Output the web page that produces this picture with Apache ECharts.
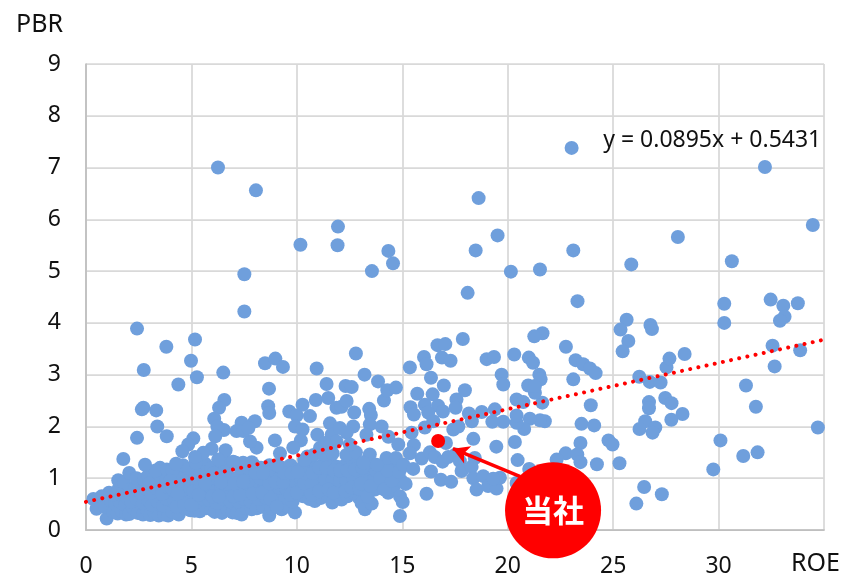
<!DOCTYPE html>
<html><head><meta charset="utf-8">
<style>html,body{margin:0;padding:0;background:#fff}#c{width:843px;height:576px}</style>
<script src="https://cdn.jsdelivr.net/npm/echarts@6/dist/echarts.min.js"></script>
</head><body><div id="c"></div>
<script>
// [ROE, PBR] pairs
const highPoints = [[6.26,7],[8.06,6.56],[10.17,5.51],[11.95,5.86],[11.93,5.5],[14.34,5.39],[14.56,5.15],[13.56,5],[7.51,4.94],[7.51,4.22],[2.42,3.89],[3.81,3.54],[5.17,3.68],[4.98,3.27],[2.74,3.09],[5.26,2.95],[6.51,3.04],[4.38,2.81],[8.49,3.22],[8.98,3.31],[9.34,3.15],[8.68,2.73],[10.94,3.12],[11.41,2.82],[12.31,2.78],[12.6,2.76],[12.8,3.41],[13.21,3],[13.85,2.87],[14.29,2.7],[14.7,2.75],[15.36,3.14],[16.03,3.34],[16.15,3.2],[16.67,3.57],[17.04,3.59],[16.88,3.33],[17.29,3.27],[16.36,2.94],[16.97,2.79],[17.87,3.69]];
const rightPoints = [[23.03,7.38],[18.62,6.41],[32.2,7.01],[34.47,5.89],[19.52,5.69],[18.48,5.4],[20.15,4.99],[21.53,5.03],[23.11,5.4],[28.07,5.66],[25.86,5.13],[30.63,5.19],[18.1,4.58],[23.31,4.42],[30.27,4.37],[30.27,4],[32.47,4.45],[33.07,4.33],[33.76,4.38],[33.13,4.12],[32.91,4.04],[25.64,4.06],[25.35,3.87],[26.77,3.96],[26.84,3.88],[25.72,3.65],[25.45,3.45],[21.65,3.8],[21.26,3.74],[19,3.3],[19.35,3.34],[20.31,3.39],[21,3.33],[21.2,3.23],[22.76,3.54],[23.22,3.28],[23.58,3.2],[23.9,3.12],[24.17,3.03],[19.71,3],[19.79,2.81],[21.5,3],[21.56,2.91],[20.97,2.79],[21.29,2.78],[23.11,2.91],[17.97,2.7],[26.24,2.96],[26.74,2.86],[27.25,2.85],[27.53,3.14],[27.67,3.31],[28.39,3.4],[32.56,3.56],[33.87,3.47],[32.66,3.16],[31.3,2.79],[31.77,2.38],[26.7,2.47],[26.7,2.35],[27.47,2.55],[27.77,2.45],[28.29,2.24],[27.76,2.13],[26.52,2.1],[26.25,1.95],[27,1.98],[26.87,1.88],[24.78,1.73],[24.97,1.65],[25.3,1.29],[24.23,1.27],[30.09,1.73],[31.17,1.43],[31.85,1.5],[29.75,1.17],[34.71,1.98],[26.47,0.83],[27.31,0.69],[26.1,0.51]];
const midRightPoints = [[23.94,2.41],[23.5,2.05],[24.1,2.02],[23.45,1.68],[22.75,1.48],[22.32,1.36],[23.3,1.46],[23.45,1.31],[21.02,1.18],[20.47,1.35],[20.34,1.7],[19.46,1.61],[18.37,1.76],[21.76,2.1],[21.53,2.12],[21.05,2.15],[20.78,1.95],[20.42,2.07],[20.42,2.21],[19.79,2.09],[19.27,2.09],[19.39,2.33],[18.77,2.28],[18.3,2.1],[18.16,2.25],[20.42,2.52],[20.74,2.47],[21.64,2.46],[21.29,2.65],[17.57,2.52],[17.53,2.36],[16.44,2.62],[15.71,2.63],[16.7,2.4],[16.93,2.29],[16.07,2.42],[16.23,2.27],[15.39,2.37],[15.55,2.23],[17.42,1.94],[17.66,2],[16.07,1.98],[16.47,2.1],[17.07,1.68],[15.44,1.88],[14.81,1.65],[15.55,1.64],[15.36,1.48],[15.92,1.38],[16.31,1.5],[16.54,1.41],[16.91,1.32],[17.18,1.41],[17.53,1.46],[17.73,1.33],[18.44,1.39],[17.81,1.14],[18.29,1.22],[16.36,1.13],[16.83,0.97],[17.32,0.93],[16.15,0.7],[18.37,1],[18.84,1.04],[18.52,0.78],[19.07,0.85],[19.47,0.8],[19.63,1.01],[19.31,0.99],[20.42,0.91],[15.52,1.18],[15.16,0.89],[14.89,0.65],[15.02,0.54],[14.89,0.27]];
const midLeftPoints = [[2.72,2.36],[2.65,2.33],[3.33,2.31],[3.38,2],[2.42,1.78],[3.83,1.81],[6.56,2.51],[6.31,2.36],[6.08,2.15],[6.54,1.93],[6.23,2],[6.13,1.81],[5.09,1.77],[4.85,1.65],[4.57,1.52],[4.27,1.28],[1.77,1.37],[2.8,1.26],[5.96,1.57],[5.56,1.49],[5.17,1.41],[6.62,1.54],[6.27,1.36],[6.98,1.32],[7.86,1.31],[8.09,1.59],[7.78,1.71],[8.01,2.1],[7.38,2.07],[7.14,1.91],[7.46,1.91],[7.7,1.97],[8.64,2.39],[8.69,2.26],[8.96,1.73],[9.2,1.48],[9.64,2.29],[10.27,2.42],[10.9,2.51],[11.49,2.55],[9.99,2.21],[10.62,2.2],[9.91,2],[10.27,1.94],[10.19,1.73],[10.97,1.84],[11.57,2.06],[11.88,2.36],[9.83,1.59],[11.1,1.59],[11.65,1.84],[12.12,2.38],[12.36,2.49],[12.72,2.27],[13.43,2.34],[13.51,2.22],[14.13,2.5],[12.04,1.97],[12.67,2],[12.36,1.88],[13.46,2.04],[14.02,2],[13.3,1.84],[14.34,1.8],[12.51,1.65],[11.88,1.71],[11.33,1.68],[13.46,1.46],[14.25,1.39],[14.7,1.39],[15.05,1.26],[13.78,1.26],[13.15,1.3]];
const denseLowA = [[0.35,0.6],[0.5,0.41],[0.98,0.22],[1.09,0.72],[0.74,0.65],[0.9,0.45],[1.2,0.55],[1.3,0.35],[1.5,0.32],[1.7,0.36],[1.9,0.3],[1.4,0.5],[1.6,0.55],[1.85,0.48],[1.3,0.68],[1.55,0.8],[1.75,0.72],[1.95,0.63],[1.53,0.96],[1.8,0.92],[2.05,0.31],[2.25,0.42],[2.45,0.33],[2.7,0.3],[2.9,0.38],[2.15,0.55],[2.4,0.6],[2.7,0.52],[2.95,0.58],[2.1,0.78],[2.35,0.85],[2.6,0.72],[2.85,0.8],[2.05,1.1],[2.4,1],[2.75,0.98],[2.95,1.05],[3.05,0.29],[3.25,0.33],[3.45,0.28],[3.7,0.3],[3.9,0.28],[3.15,0.48],[3.4,0.55],[3.65,0.47],[3.85,0.6],[3.1,0.72],[3.35,0.8],[3.6,0.7],[3.9,0.82],[3.2,0.98],[3.5,1.02],[3.8,0.95],[3.51,1.2],[3.3,1.15],[3.83,1.17],[4.1,0.35],[4.4,0.3],[4.7,0.42],[4.95,0.38],[4.2,0.55],[4.5,0.62],[4.8,0.58],[4.1,0.78],[4.35,0.85],[4.65,0.78],[4.95,0.8],[4.2,1],[4.5,1.08],[4.8,1],[4.1,1.15],[4.6,1.25],[4.9,1.18]];
const denseLowB = [[5.15,0.37],[5.4,0.36],[5.7,0.42],[5.95,0.4],[5.25,0.55],[5.55,0.6],[5.85,0.58],[5.1,0.75],[5.4,0.82],[5.7,0.75],[5.95,0.8],[5.2,1],[5.5,1.05],[5.8,0.98],[5.3,1.2],[5.65,1.28],[5.95,1.2],[5.2,1.3],[6.1,0.35],[6.45,0.33],[6.7,0.4],[6.95,0.34],[6.2,0.52],[6.5,0.6],[6.85,0.55],[6.1,0.75],[6.4,0.8],[6.75,0.75],[6.95,0.85],[6.2,1],[6.55,1.05],[6.9,1],[6.3,1.2],[6.7,1.2],[6.5,1.38],[7.15,0.33],[7.38,0.3],[7.6,0.42],[7.86,0.4],[7.2,0.55],[7.5,0.6],[7.8,0.55],[7.1,0.78],[7.4,0.82],[7.7,0.75],[7.95,0.85],[7.2,1],[7.55,1.05],[7.85,1],[7.3,1.2],[7.7,1.2],[7.95,1.25],[7.1,1.3],[8.1,0.42],[8.4,0.45],[8.69,0.28],[8.8,0.42],[8.2,0.6],[8.55,0.62],[8.9,0.55],[8.1,0.8],[8.45,0.85],[8.8,0.75],[8.25,1],[8.6,1.05],[8.95,0.98],[8.3,1.2],[8.7,1.25],[8.95,1.15]];
const denseLowC = [[9.28,0.4],[9.6,0.45],[9.91,0.34],[9.1,0.6],[9.45,0.62],[9.8,0.55],[9.15,0.82],[9.5,0.8],[9.85,0.75],[9.2,1],[9.55,1],[9.9,0.95],[9.3,1.2],[9.7,1.25],[9.95,1.15],[10.3,0.65],[10.6,0.6],[10.85,0.56],[10.15,0.8],[10.5,0.8],[10.85,0.75],[10.2,1],[10.55,1.02],[10.9,0.95],[10.25,1.2],[10.6,1.25],[10.9,1.2],[10.5,1.42],[10.8,1.45],[11.15,0.62],[11.4,0.7],[11.68,0.53],[11.9,0.68],[11.2,0.85],[11.55,0.88],[11.85,0.85],[11.1,1.05],[11.45,1.08],[11.85,1.02],[11.2,1.25],[11.6,1.3],[11.9,1.22],[11.3,1.45],[11.7,1.48],[12.12,0.59],[12.4,0.65],[12.7,0.72],[12.95,0.62],[12.15,0.85],[12.5,0.85],[12.85,0.88],[12.2,1.05],[12.55,1.1],[12.9,1.05],[12.3,1.25],[12.7,1.3],[12.35,1.45],[12.8,1.5],[13.07,0.52],[13.23,0.4],[13.55,0.51],[13.7,0.78],[13.25,0.75],[13.45,0.95],[13.2,1.05],[13.7,1.02],[14.05,0.92],[14.33,0.72],[14.6,0.85],[14,1.15],[14.4,1.05],[14.75,1.05],[14.95,0.95],[13.5,1.2],[14.2,1.25],[14.6,1.22],[14.95,1.2]];
const denseFill = [[3,0.9],[4,0.95],[4.3,0.45],[4.65,0.5],[5,0.48],[4.35,0.7],[5.35,0.68],[5.65,0.9],[6,0.65],[6.3,0.65],[6.65,0.9],[6.05,1.1],[6.4,0.92],[7,0.65],[7.3,0.68],[7.65,0.9],[7.05,0.9],[7.45,0.93],[7.9,0.7],[7.45,1.3],[8.05,1.1],[8.35,0.72],[8.7,0.9],[8.4,1.1],[8.75,0.6],[9.05,0.45],[9,0.92],[9.35,0.92],[9.7,0.68],[9.4,1.1],[9.75,1.1],[9.05,1.25],[10,0.72],[10.35,0.9],[10.7,0.9],[10.4,1.1],[10.75,1.1],[10.05,1.12],[10.35,1.35],[10.7,0.68],[11.05,0.75],[11.35,0.97],[11.7,0.97],[11.05,1.2],[11.4,1.2],[11.75,1.15],[11.5,0.78],[11.75,0.72],[12.05,0.95],[12.35,0.95],[12.7,0.98],[12.05,1.15],[12.4,1.15],[12.75,1.17],[12.3,0.75],[12.6,0.82],[12.95,0.8],[13.05,0.9],[13.35,0.65],[13.5,0.85],[13.1,1.2],[13.35,1.35],[13.75,1.15],[13.95,1],[14.15,0.78],[14.5,0.95],[14.3,1.15],[14.85,1.12]];
const ownCompany = [16.7,1.72];
const calloutPoint = [22.15,0.38];
const arrowFrom = [20.6,1.03];
const arrowTo = [17.4,1.57];
const trendSlope = 0.0895, trendIntercept = 0.5431;
const xTicks = {min:0,max:35,interval:5};
const yTicks = {min:0,max:9,interval:1};
const trendLabel = 'y = 0.0895x + 0.5431';
const calloutLabel = '当社';

const FONT = '"Noto Sans","Noto Sans CJK JP",sans-serif';
const allPoints = [].concat(denseLowA,denseLowB,denseLowC,denseFill,midLeftPoints,midRightPoints,highPoints,rightPoints);
const gridLine = {show:true,lineStyle:{color:'#d9d9d9',width:1.75}};
const axisLine = {show:true,onZero:false,lineStyle:{color:'#bfbfbf',width:1.75}};
const labels = {color:'#111',fontFamily:FONT,fontSize:23};
const names = {color:'#111',fontFamily:FONT,fontSize:25};

const chart = echarts.init(document.getElementById('c'),null,{renderer:'canvas'});
chart.setOption({
  animation:false,
  backgroundColor:'#fff',
  grid:{left:86,right:19,top:64,bottom:46,outerBoundsMode:'none'},
  xAxis:{type:'value',...xTicks,axisTick:{show:false},axisLine,splitLine:gridLine,
    axisLabel:{...labels,margin:25,formatter:v=>v===xTicks.max?'':String(v)},
    name:'ROE',nameLocation:'end',nameGap:16,
    nameTextStyle:{...names,align:'right',verticalAlign:'top',padding:[21,0,0,0]}},
  yAxis:{type:'value',...yTicks,axisTick:{show:false},axisLine,splitLine:gridLine,
    axisLabel:{...labels,margin:25},
    name:'PBR',nameLocation:'end',nameGap:27,
    nameTextStyle:{...names,align:'right',verticalAlign:'bottom',padding:[0,23,0,0]}},
  series:[
    {type:'scatter',name:'companies',data:allPoints,symbolSize:14,z:2,
      itemStyle:{color:'#6f9fdc',opacity:1}},
    {type:'line',name:'trend',showSymbol:false,symbol:'none',silent:true,z:3,
      data:[[xTicks.min,trendIntercept],[xTicks.max,trendIntercept+trendSlope*xTicks.max]],
      lineStyle:{color:'#ff0000',width:4,type:[0.01,8.35],cap:'round'},
      markPoint:{symbol:'circle',symbolSize:1,itemStyle:{color:'transparent'},
        label:{show:true,formatter:trendLabel,color:'#111',fontFamily:FONT,fontSize:23,position:'inside'},
        data:[{coord:[29.7,7.53]}]}},
    {type:'scatter',name:'当社点',data:[ownCompany],symbolSize:14,z:4,itemStyle:{color:'#ff0000',opacity:1},
      markLine:{silent:true,z:5,symbol:['none','arrow'],symbolSize:[14,16],
        lineStyle:{color:'#ff0000',width:3.5,type:'solid',opacity:1},label:{show:false},
        data:[[{coord:arrowFrom},{coord:arrowTo}]]}},
    {type:'scatter',name:'当社',data:[calloutPoint],symbolSize:96,z:6,itemStyle:{color:'#ff0000',opacity:1},
      label:{show:true,position:'inside',formatter:calloutLabel,color:'#fff',fontWeight:'bold',
        fontFamily:'"Noto Sans CJK JP",sans-serif',fontSize:31}}
  ]
});
</script></body></html>
